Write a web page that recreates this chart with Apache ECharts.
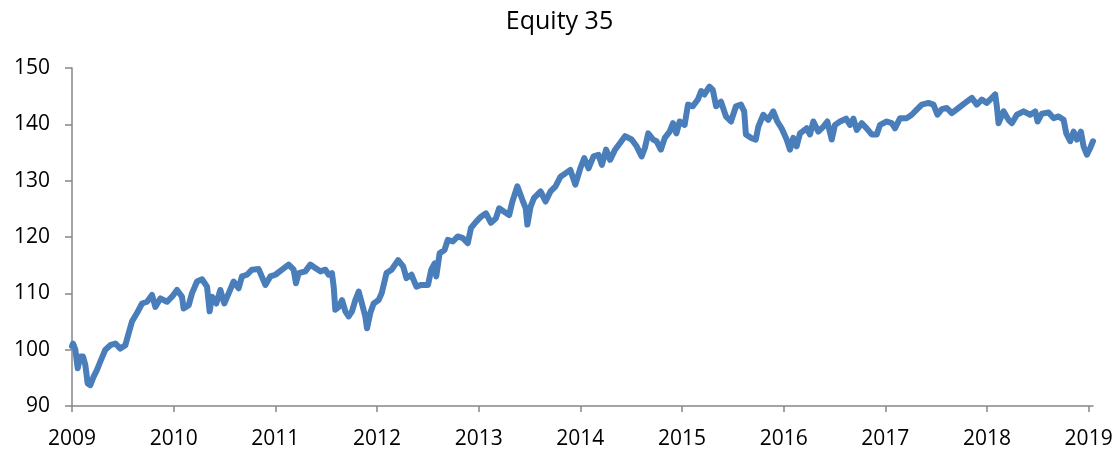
<!DOCTYPE html>
<html>
<head>
    <meta charset="UTF-8">
    <script src="https://cdn.jsdelivr.net/npm/echarts@6/dist/echarts.min.js"></script>
</head>
<body style="margin:0;background:#fff;">
    <div id="main" style="width:1119px;height:453px;"></div>
    <script type="text/javascript">
        // x = fractional year
        var years = [
            2009.00, 2009.01, 2009.033, 2009.056, 2009.082, 2009.108, 2009.131, 2009.154, 2009.18, 2009.213,
            2009.246, 2009.279, 2009.328, 2009.377, 2009.426, 2009.475, 2009.525, 2009.557, 2009.59, 2009.639,
            2009.689, 2009.738, 2009.787, 2009.82, 2009.869, 2009.934, 2009.984, 2010.033, 2010.082, 2010.098,
            2010.148, 2010.18, 2010.23, 2010.279, 2010.328, 2010.354, 2010.377, 2010.42, 2010.459, 2010.498,
            2010.541, 2010.59, 2010.639, 2010.672, 2010.721, 2010.77, 2010.836, 2010.902, 2010.951, 2011.0,
            2011.066, 2011.131, 2011.18, 2011.203, 2011.23, 2011.295, 2011.344, 2011.393, 2011.443, 2011.492,
            2011.525, 2011.557, 2011.574, 2011.59, 2011.623, 2011.656, 2011.689, 2011.721, 2011.754, 2011.787,
            2011.82, 2011.852, 2011.885, 2011.902, 2011.934, 2011.967, 2012.016, 2012.046,
            2012.094, 2012.143, 2012.208, 2012.257, 2012.29, 2012.339, 2012.388, 2012.436, 2012.502, 2012.534,
            2012.567, 2012.583, 2012.616, 2012.664, 2012.697, 2012.746, 2012.795, 2012.844, 2012.893, 2012.925,
            2012.974, 2013.023, 2013.072, 2013.121, 2013.169, 2013.202, 2013.251, 2013.3, 2013.332, 2013.381,
            2013.43, 2013.463, 2013.479, 2013.511, 2013.544, 2013.609, 2013.658, 2013.707, 2013.756, 2013.805,
            2013.853, 2013.902, 2013.951, 2014.0, 2014.039, 2014.081, 2014.13, 2014.179, 2014.212, 2014.254,
            2014.293, 2014.342, 2014.391, 2014.44, 2014.505, 2014.554, 2014.603, 2014.635, 2014.668, 2014.717,
            2014.749, 2014.792, 2014.831, 2014.879, 2014.912, 2014.945, 2014.977, 2015.026, 2015.059, 2015.107,
            2015.156, 2015.189, 2015.221, 2015.27, 2015.303, 2015.336, 2015.384, 2015.433, 2015.482, 2015.531,
            2015.58, 2015.612, 2015.629, 2015.678, 2015.726, 2015.751, 2015.8, 2015.849, 2015.898, 2015.938,
            2015.98, 2016.03, 2016.062, 2016.095, 2016.128, 2016.161, 2016.226, 2016.259, 2016.292, 2016.341,
            2016.391, 2016.43, 2016.473, 2016.505, 2016.555, 2016.614, 2016.653, 2016.686, 2016.719, 2016.768,
            2016.817, 2016.866, 2016.916, 2016.948, 2017.014, 2017.063, 2017.096, 2017.145, 2017.211, 2017.26,
            2017.309, 2017.359, 2017.424, 2017.474, 2017.513, 2017.556, 2017.605, 2017.654, 2017.72, 2017.785,
            2017.851, 2017.9, 2017.949, 2017.999, 2018.048, 2018.081, 2018.097, 2018.114, 2018.163, 2018.212,
            2018.245, 2018.294, 2018.36, 2018.425, 2018.475, 2018.498, 2018.54, 2018.606, 2018.655, 2018.704,
            2018.754, 2018.78, 2018.819, 2018.852, 2018.885, 2018.924, 2018.95, 2018.983, 2019.016, 2019.043
        ];
        var values = [
            100.6, 101.1, 100.0, 96.7, 98.8, 98.8, 97.3, 94.0, 93.7, 95.2,
            96.4, 97.9, 100.0, 100.8, 101.1, 100.2, 100.8, 102.9, 105.0, 106.5,
            108.2, 108.5, 109.7, 107.6, 109.1, 108.5, 109.4, 110.6, 109.4, 107.3,
            107.9, 110.0, 112.1, 112.5, 111.2, 106.8, 109.4, 108.2, 110.6, 108.2,
            110.0, 112.1, 110.9, 113.0, 113.3, 114.2, 114.3, 111.5, 113.0, 113.3,
            114.2, 115.1, 114.2, 111.8, 113.6, 113.9, 115.1, 114.5, 113.9, 114.2,
            113.3, 113.6, 111.2, 107.1, 107.6, 108.8, 106.8, 105.9, 106.8, 108.8,
            110.3, 108.2, 105.9, 103.8, 106.5, 108.2, 108.8, 110.0,
            113.6, 114.2, 115.9, 114.8, 112.7, 113.3, 111.2, 111.5, 111.5, 114.2,
            115.3, 113.0, 117.1, 117.7, 119.5, 119.2, 120.1, 119.8, 118.9, 121.6,
            122.7, 123.6, 124.2, 122.5, 123.3, 125.1, 124.5, 123.9, 126.3, 129.0,
            126.6, 125.1, 122.2, 125.4, 126.9, 128.1, 126.3, 128.1, 129.0, 130.7,
            131.3, 131.9, 129.3, 132.2, 134.0, 132.2, 134.3, 134.6, 132.8, 135.5,
            133.7, 135.5, 136.7, 137.9, 137.3, 136.1, 134.3, 135.8, 138.4, 137.3,
            137.0, 135.5, 137.6, 138.7, 140.2, 138.4, 140.5, 139.9, 143.5, 143.2,
            144.4, 145.9, 145.3, 146.7, 146.1, 143.2, 144.0, 141.4, 140.5, 143.2,
            143.5, 142.3, 138.2, 137.6, 137.3, 139.6, 141.7, 140.8, 142.3, 140.5,
            139.3, 137.3, 135.5, 137.6, 136.1, 138.4, 139.3, 138.2, 140.5, 138.7,
            139.6, 140.5, 137.3, 139.9, 140.5, 141.0, 139.9, 141.0, 139.0, 140.2,
            139.3, 138.2, 138.2, 139.9, 140.5, 140.2, 139.3, 141.1, 141.1, 141.7,
            142.6, 143.5, 143.8, 143.5, 141.7, 142.7, 142.9, 142.0, 142.9, 143.8,
            144.7, 143.5, 144.4, 143.8, 144.7, 145.3, 143.2, 140.2, 142.3, 140.8,
            140.2, 141.7, 142.3, 141.7, 142.3, 140.5, 141.9, 142.1, 141.1, 141.4,
            140.8, 138.4, 137.0, 138.7, 137.3, 138.7, 136.1, 134.6, 135.8, 137.0
        ];
        var yearTicks = [2009, 2010, 2011, 2012, 2013, 2014, 2015, 2016, 2017, 2018, 2019];

        var lineData = [];
        for (var i = 0; i < years.length; i++) {
            lineData.push([years[i], values[i]]);
        }

        var myChart = echarts.init(document.getElementById('main'));
        var axisColor = '#868686';
        var option = {
            animation: false,
            title: {
                text: 'Equity 35',
                left: 'center',
                top: 4,
                textStyle: {fontFamily: 'Open Sans', fontSize: 25, fontWeight: 'normal', color: '#000'}
            },
            grid: {left: 72, right: 26, top: 68, bottom: 47},
            xAxis: {
                type: 'value',
                min: 2009,
                max: 2019.043,
                splitLine: {show: false},
                axisLine: {lineStyle: {color: axisColor, width: 1.5}},
                axisTick: {show: true, customValues: yearTicks, length: 6, lineStyle: {color: axisColor, width: 1.5}},
                axisLabel: {
                    customValues: yearTicks,
                    margin: 23,
                    fontFamily: 'Open Sans',
                    fontSize: 21,
                    color: '#000',
                    formatter: function (v) { return String(v); }
                }
            },
            yAxis: {
                type: 'value',
                min: 90,
                max: 150,
                interval: 10,
                splitLine: {show: false},
                axisLine: {show: true, lineStyle: {color: axisColor, width: 1.5}},
                axisTick: {show: true, length: 7, lineStyle: {color: axisColor, width: 1.5}},
                axisLabel: {margin: 22, fontFamily: 'Open Sans', fontSize: 21, color: '#000'}
            },
            series: [{
                type: 'line',
                data: lineData,
                showSymbol: false,
                lineStyle: {color: '#4a7ebb', width: 6, join: 'round', cap: 'round'}
            }]
        };
        myChart.setOption(option);
    </script>
</body>
</html>
